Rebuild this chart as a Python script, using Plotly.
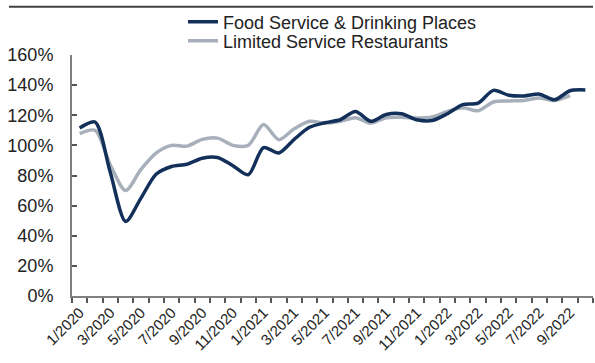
import plotly.graph_objects as go

months = [f"{m}/{y}" for y in (2020, 2021, 2022) for m in range(1, 13)][:34]
tick_labels = [mo if i % 2 == 0 else "" for i, mo in enumerate(months)]

food_service = [111.5, 115.5, 82, 49.5, 65, 81, 86, 87.5, 91.5, 92, 86.5, 80.5,
                98.5, 95, 104, 112, 115, 117, 122.5, 116, 120.5, 121, 117, 116.5,
                121, 127, 128, 136.5, 133.3, 132.8, 134, 130.3, 136.3, 136.8]
limited_service = [107.8, 110, 87, 70, 84, 95, 100, 99.5, 104, 104.8, 100, 100,
                   113.8, 103.8, 111, 116, 114.8, 116, 118.4, 114.8, 118.4, 118.6, 118.2, 118.9,
                   122.5, 125, 123, 128.8, 129.5, 129.8, 131.5, 129.8, 133, None]

y_ticks = [0, 20, 40, 60, 80, 100, 120, 140, 160]

FONT = "Liberation Sans, Arial, sans-serif"

fig = go.Figure()
fig.add_trace(go.Scatter(x=months, y=limited_service, mode="lines",
                         name="Limited Service Restaurants", legend="legend2",
                         line=dict(color="#A7B0BA", width=3.5, shape="spline", smoothing=0.8)))
fig.add_trace(go.Scatter(x=months, y=food_service, mode="lines",
                         name="Food Service & Drinking Places", legend="legend",
                         line=dict(color="#13305A", width=3.5, shape="spline", smoothing=0.8)))

leg_common = dict(xanchor="left", yanchor="middle", font=dict(size=18, color="#222222"),
                  bgcolor="rgba(0,0,0,0)", borderwidth=0)

fig.update_layout(
    width=595, height=363,
    margin=dict(l=72, r=2, t=55, b=67, autoexpand=False),
    paper_bgcolor="white", plot_bgcolor="white",
    font=dict(family=FONT, size=16, color="#222222"),
    showlegend=True,
    legend=dict(x=0.213, y=1.137, **leg_common),
    legend2=dict(x=0.213, y=1.058, **leg_common),
    xaxis=dict(type="category", tickmode="array", tickvals=months, ticktext=tick_labels,
               tickson="boundaries", ticks="outside", ticklen=5, tickwidth=1.5,
               tickcolor="#555555", showline=True, linecolor="#808080", linewidth=2,
               showgrid=False, tickangle=-45, tickfont=dict(size=15, color="#222222"),
               range=[-0.5, 33.5], zeroline=False),
    yaxis=dict(range=[0, 160], tickvals=y_ticks, ticktext=[f"{v}%" for v in y_ticks],
               ticks="inside", ticklen=5, tickwidth=1.5, tickcolor="#555555",
               showline=True, linecolor="#808080", linewidth=2, showgrid=False,
               zeroline=False, tickfont=dict(size=18, color="#222222"),
               ticklabelstandoff=13),
    shapes=[dict(type="line", xref="paper", yref="paper", layer="above",
                 x0=-0.121, x1=1.0, y0=1.2, y1=1.2,
                 line=dict(color="#404040", width=2))],
)

fig.write_html("out.html", config={"displayModeBar": False},
               post_script="document.body.style.margin='0';")
